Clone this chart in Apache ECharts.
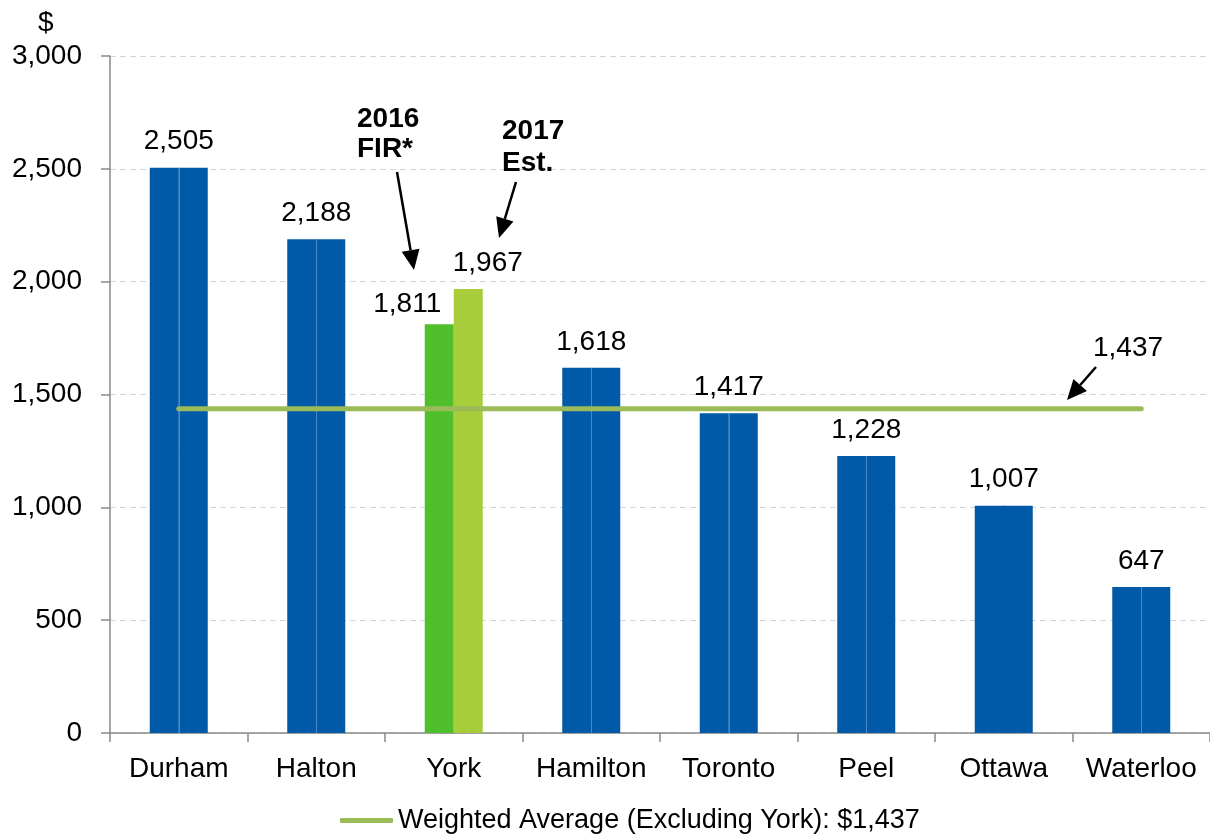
<!DOCTYPE html>
<html>
<head>
<meta charset="utf-8">
<script src="https://cdn.jsdelivr.net/npm/echarts@6/dist/echarts.min.js"></script>
<style>
  html, body { margin: 0; padding: 0; background: #fff; }
  #main { width: 1210px; height: 834px; }
</style>
</head>
<body>
<div id="main"></div>
<script>
const categories = ['Durham', 'Halton', 'York', 'Hamilton', 'Toronto', 'Peel', 'Ottawa', 'Waterloo']
const fir2016 = [2505, 2188, 1811, 1618, 1417, 1228, 1007, 647]
const est2017 = [2505, 2188, 1967, 1618, 1417, 1228, 1007, 647]
const weightedAvg = 1437
const yTicks = { min: 0, max: 3000, interval: 500 }

const BLUE = '#005AA7'
const GREEN_2016 = '#50BF2C'
const GREEN_2017 = '#A7CE3A'
const AVG_LINE = '#9BBB59'
const SEAM = '#4a86c8'
const FONT = 'Liberation Sans, Arial, sans-serif'
const YORK = categories.indexOf('York')
const OTTAWA = categories.indexOf('Ottawa')

const fmt = v => Number(v).toLocaleString('en-US')

function barItem(value, i, yorkColor, yorkLabel) {
  const item = { value, itemStyle: { color: i === YORK ? yorkColor : BLUE } }
  if (yorkLabel && i === YORK) item.label = yorkLabel
  return item
}

const series2016 = fir2016.map((v, i) => {
  const item = barItem(v, i, GREEN_2016, { show: true, offset: [-32, 6] })
  if (i !== YORK) item.label = { show: true, offset: [14.5, 0] }
  return item
})
const series2017 = est2017.map((v, i) => barItem(v, i, GREEN_2017, { show: true, offset: [19.5, 0] }))

// light seam between the paired blue bars; Ottawa's pair reads as one solid bar
const seams = categories
  .map((c, i) => ({ c, i }))
  .filter(({ i }) => i !== YORK)
  .map(({ c, i }) => [
    { coord: [c, 0], lineStyle: i === OTTAWA ? { color: BLUE, width: 2 } : {} },
    { coord: [c, Math.min(fir2016[i], est2017[i])] }
  ])

function arrow(x1, y1, x2, y2) {
  const ang = Math.atan2(y2 - y1, x2 - x1)
  const len = 20, half = 9
  const bx = x2 - len * Math.cos(ang), by = y2 - len * Math.sin(ang)
  const px = -Math.sin(ang) * half, py = Math.cos(ang) * half
  return [
    { type: 'line', silent: true, z: 50,
      shape: { x1, y1, x2: bx, y2: by },
      style: { stroke: '#000', lineWidth: 2.5 } },
    { type: 'polygon', silent: true, z: 50,
      shape: { points: [[x2, y2], [bx + px, by + py], [bx - px, by - py]] },
      style: { fill: '#000' } }
  ]
}

const labelBase = {
  show: false,
  position: 'top',
  distance: 12,
  color: '#000',
  fontSize: 28,
  fontFamily: FONT,
  formatter: p => fmt(p.value)
}

const chart = echarts.init(document.getElementById('main'))
chart.setOption({
  animation: false,
  textStyle: { fontFamily: FONT },
  grid: { left: 110, right: -4, top: 56, bottom: 101, containLabel: false },
  legend: {
    data: [{ name: 'Weighted Average (Excluding York): $1,437', icon: 'roundRect' }],
    left: 335, top: 802,
    itemWidth: 53, itemHeight: 5, itemGap: 5,
    itemStyle: { color: AVG_LINE },
    textStyle: { fontSize: 27, color: '#000', fontFamily: FONT }
  },
  xAxis: {
    type: 'category',
    data: categories,
    axisLine: { lineStyle: { color: '#898989', width: 1.5 } },
    axisTick: { show: true, length: 9, lineStyle: { color: '#898989', width: 1.5 } },
    axisLabel: { color: '#000', fontSize: 28, margin: 22, interval: 0 }
  },
  yAxis: {
    type: 'value',
    min: yTicks.min, max: yTicks.max, interval: yTicks.interval,
    axisLine: { show: true, lineStyle: { color: '#898989', width: 1.5 } },
    axisTick: { show: true, length: 9, lineStyle: { color: '#898989', width: 1.5 } },
    axisLabel: { color: '#000', fontSize: 28, margin: 28, formatter: v => fmt(v) },
    splitLine: { lineStyle: { color: '#d4d4d4', type: [6, 4], width: 1 } }
  },
  series: [
    {
      name: '2016 FIR', type: 'bar', barWidth: 29, barGap: 0,
      data: series2016, label: labelBase, z: 2
    },
    {
      name: '2017 Est.', type: 'bar', barWidth: 29, barGap: 0,
      data: series2017, label: labelBase, z: 2
    },
    {
      name: 'Weighted Average (Excluding York): $1,437', type: 'line',
      data: categories.map(() => weightedAvg),
      symbol: 'none', z: 5,
      lineStyle: { color: AVG_LINE, width: 5, cap: 'round' },
      itemStyle: { color: AVG_LINE },
      markLine: {
        silent: true, symbol: 'none', z: 3,
        label: { show: false },
        lineStyle: { color: SEAM, width: 1, type: 'solid' },
        data: seams
      }
    }
  ],
  graphic: [
    { type: 'text', left: 38, top: 9,
      style: { text: '$', fontSize: 28, fill: '#000', fontFamily: FONT } },
    { type: 'text', left: 357, top: 104, z: 50,
      style: { text: '2016\nFIR*', fontSize: 28, fontWeight: 'bold', lineHeight: 30, fill: '#000', fontFamily: FONT } },
    { type: 'text', left: 502, top: 115, z: 50,
      style: { text: '2017\nEst.', fontSize: 28, fontWeight: 'bold', lineHeight: 32, fill: '#000', fontFamily: FONT } },
    { type: 'text', left: 1093, top: 334, z: 50,
      style: { text: fmt(weightedAvg), fontSize: 28, fill: '#000', fontFamily: FONT } },
    ...arrow(397, 172, 414, 270),
    ...arrow(516, 182, 499, 238),
    ...arrow(1096, 367, 1067, 400)
  ]
})
</script>
</body>
</html>
